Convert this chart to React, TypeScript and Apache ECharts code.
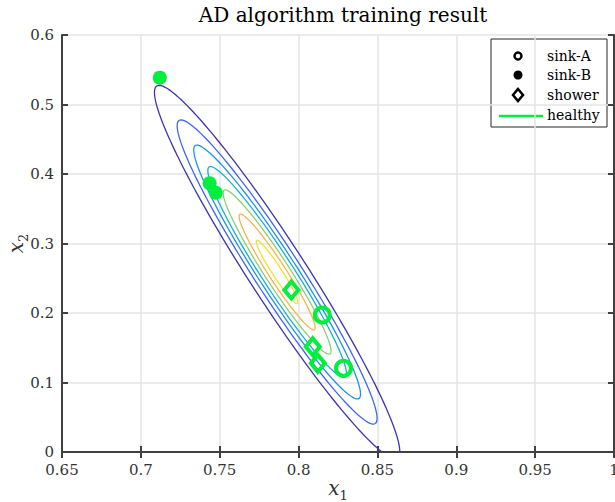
import React, { useEffect, useRef } from "react";
import * as echarts from "echarts";

// ---- data ----
const sinkAX = [0.815, 0.8285];
const sinkAY = [0.1971, 0.1204];
const sinkBX = [0.712, 0.7436, 0.7475];
const sinkBY = [0.5386, 0.3866, 0.3731];
const showerX = [0.7954, 0.809, 0.8122];
const showerY = [0.2331, 0.1515, 0.1276];

// contour family (concentric ellipses in data units)
const contourCenter = [0.7864, 0.259];
const contourMajor = [-0.0763, 0.2676]; // centre -> tip of outermost level
const contourMinor = [0.01506, 0.0222]; // centre -> side of outermost level
const contourScales = [1, 0.815, 0.68, 0.565, 0.44, 0.31, 0.17];
const contourColors = ["#3e35ad", "#3f66ee", "#1f93e6", "#10b4d2", "#8ccf72", "#f6b444", "#f2e12e"];

const xTicks = { min: 0.65, max: 1, interval: 0.05 };
const yTicks = { min: 0, max: 0.6, interval: 0.1 };

const legendNames = ["sink-A", "sink-B", "shower", "healthy"];

const GREEN = "#00ef3c";
const SERIF = "DejaVu Serif";

export default function App() {
  const ref = useRef<HTMLDivElement>(null);
  useEffect(() => {
    document.body.style.margin = "0";
    const chart = echarts.init(ref.current!, null, { renderer: "svg" });
    const fmt = (v: number) => String(parseFloat(v.toFixed(2)));
    const axisCommon = {
      axisLine: { show: true, lineStyle: { color: "#404040", width: 2 } },
      axisTick: { show: true, inside: true, length: 6, lineStyle: { color: "#404040", width: 2 } },
    };
    const nameRich = {
      i: { fontFamily: SERIF, fontStyle: "italic", fontSize: 20, color: "#333", verticalAlign: "bottom", padding: [0, 0, 4, 0] },
      s: { fontFamily: SERIF, fontSize: 13, color: "#333", verticalAlign: "bottom" },
    };
    const contourData = contourScales.map((s, i) => [s, i]);
    const legendText = (t: string, y: number) => ({
      type: "text",
      x: 56,
      y,
      style: {
        text: t,
        fontFamily: SERIF,
        fontSize: 14,
        fill: "#000",
        verticalAlign: "middle",
        align: "left",
      },
    });
    chart.setOption({
      animation: false,
      textStyle: { fontFamily: SERIF },
      title: {
        text: "AD algorithm training result",
        left: 338,
        top: 0,
        textAlign: "center",
        textStyle: { fontFamily: SERIF, fontSize: 20, fontWeight: "normal", color: "#000" },
      },
      grid: { left: 62, top: 35, width: 552, height: 417, outerBoundsMode: "none", containLabel: false },
      xAxis: [
        {
          type: "value",
          ...xTicks,
          position: "bottom",
          ...axisCommon,
          axisLabel: { formatter: fmt, fontFamily: SERIF, fontSize: 15, color: "#333", margin: 10 },
          splitLine: { show: true, lineStyle: { color: "#e4e4e4", width: 1.5 } },
          name: "{i|x}{s|1}",
          nameLocation: "middle",
          nameGap: 26,
          nameMoveOverlap: false,
          nameTextStyle: { rich: nameRich },
        },
        {
          type: "value",
          ...xTicks,
          position: "top",
          ...axisCommon,
          axisLabel: { show: false },
          splitLine: { show: false },
        },
      ],
      yAxis: [
        {
          type: "value",
          ...yTicks,
          position: "left",
          ...axisCommon,
          axisLabel: { formatter: fmt, fontFamily: SERIF, fontSize: 15, color: "#333", margin: 8 },
          splitLine: { show: true, lineStyle: { color: "#e4e4e4", width: 1.5 } },
          name: "{i|x}{s|2}",
          nameLocation: "middle",
          nameGap: 32,
          nameMoveOverlap: false,
          nameTextStyle: { rich: nameRich },
        },
        {
          type: "value",
          ...yTicks,
          position: "right",
          ...axisCommon,
          axisLabel: { show: false },
          splitLine: { show: false },
        },
      ],
      series: [
        {
          type: "custom",
          name: "contours",
          clip: true,
          silent: true,
          data: contourData,
          renderItem: (params: any, api: any) => {
            const s = api.value(0);
            const idx = api.value(1);
            const pts: number[][] = [];
            const N = 160;
            for (let k = 0; k <= N; k++) {
              const t = (k / N) * Math.PI * 2;
              const c = Math.cos(t);
              const sn = Math.sin(t);
              const x = contourCenter[0] + s * (contourMajor[0] * c + contourMinor[0] * sn);
              const y = contourCenter[1] + s * (contourMajor[1] * c + contourMinor[1] * sn);
              pts.push(api.coord([x, y]));
            }
            return {
              type: "polyline",
              shape: { points: pts },
              style: { fill: "none", stroke: contourColors[idx], lineWidth: 1.3 },
            };
          },
          z: 2,
        },
        {
          type: "scatter",
          name: "sink-A",
          data: sinkAX.map((x, i) => [x, sinkAY[i]]),
          symbol: "circle",
          symbolSize: 15,
          itemStyle: { color: "rgba(0,0,0,0)", borderColor: GREEN, borderWidth: 4, opacity: 1 },
          z: 5,
        },
        {
          type: "scatter",
          name: "sink-B",
          data: sinkBX.map((x, i) => [x, sinkBY[i]]),
          symbol: "circle",
          symbolSize: 14,
          itemStyle: { color: GREEN, opacity: 1 },
          z: 5,
        },
        {
          type: "scatter",
          name: "shower",
          data: showerX.map((x, i) => [x, showerY[i]]),
          symbol: "diamond",
          symbolSize: [14, 17],
          itemStyle: { color: "rgba(0,0,0,0)", borderColor: GREEN, borderWidth: 4, opacity: 1 },
          z: 5,
        },
      ],
      graphic: [
        {
          type: "group",
          x: 491,
          y: 39,
          z: 100,
          children: [
            { type: "rect", shape: { x: 0, y: 0, width: 116, height: 88 }, style: { fill: "#fff", stroke: "#262626", lineWidth: 1 } },
            { type: "circle", shape: { cx: 27, cy: 17, r: 3.5 }, style: { fill: "#fff", stroke: "#000", lineWidth: 2.5 } },
            { type: "circle", shape: { cx: 27, cy: 36, r: 4.5 }, style: { fill: "#000" } },
            { type: "polygon", shape: { points: [[27, 50], [32, 56], [27, 62], [22, 56]] }, style: { fill: "#fff", stroke: "#000", lineWidth: 2.5 } },
            { type: "line", shape: { x1: 8, y1: 77, x2: 52, y2: 77 }, style: { stroke: GREEN, lineWidth: 2.5 } },
            legendText(legendNames[0], 17),
            legendText(legendNames[1], 36),
            legendText(legendNames[2], 56),
            legendText(legendNames[3], 76),
          ],
        },
      ],
    });
    return () => chart.dispose();
  }, []);
  return <div ref={ref} style={{ width: 615, height: 502 }} />;
}
